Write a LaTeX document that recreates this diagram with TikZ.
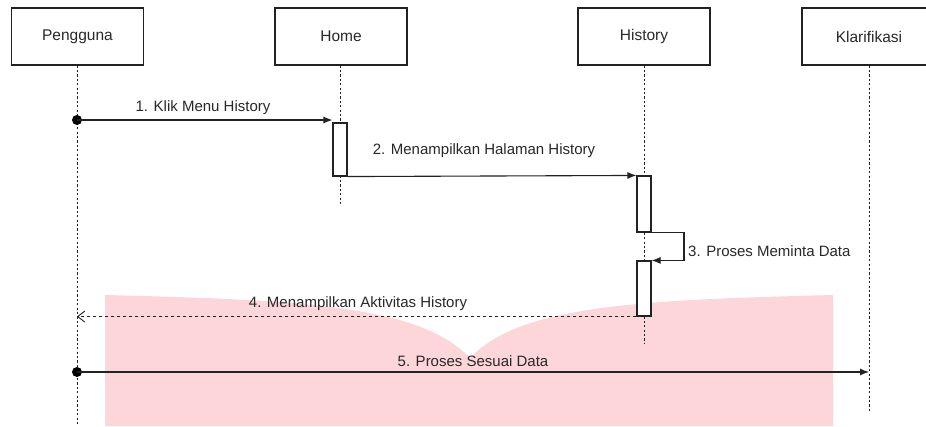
\documentclass[tikz,border=0pt]{standalone}
\usepackage{fontspec}
\setmainfont{Liberation Sans}
\usetikzlibrary{arrows.meta}
\definecolor{blush}{RGB}{252,214,216}
\definecolor{ink}{RGB}{34,34,34}
\definecolor{txt}{RGB}{40,40,40}
\begin{document}
\begin{tikzpicture}[x=1pt,y=-1pt,
  lifebox/.style={draw=ink,line width=1.1pt,minimum width=132pt,minimum height=57pt,inner sep=0pt,font=\fontsize{15.5}{17}\selectfont,text=txt},
  lifeline/.style={draw=ink,line width=0.9pt,dash pattern=on 2.2pt off 2.2pt},
  actbox/.style={draw=ink,fill=white,line width=1.1pt,minimum width=14pt,inner sep=0pt},
  msg/.style={draw=ink,line width=1.1pt,-{Latex[length=9pt,width=7pt]}},
  replymsg/.style={draw=ink,line width=0.9pt,dash pattern=on 3pt off 3pt,-{Straight Barb[length=7pt,width=11pt]}},
  lbl/.style={font=\fontsize{15}{17}\selectfont,text=txt,inner sep=0pt},
  startdot/.style={circle,fill=black,minimum size=10pt,inner sep=0pt}]
\useasboundingbox (0,0) rectangle (926,426);
\fill[white] (0,0) rectangle (926,426);
% pink background shape
\fill[blush] (105,295) .. controls (300,300) and (420,305) .. (470,358)
  .. controls (520,305) and (640,300) .. (833,295) -- (833,426) -- (105,426) -- cycle;
% lifeline heads
\node[lifebox] (peng) at (77.5,36.5) {Pengguna};
\node[lifebox] (home) at (341,36.5) {Home};
\node[lifebox] (hist) at (644,36.5) {History};
\node[lifebox,minimum width=134pt] (klar) at (869,36.5) {Klarifikasi};
% lifeline ends
\coordinate (pengEnd) at (77,426);
\coordinate (homeEnd) at (340,204);
\coordinate (histEnd) at (644,344);
\coordinate (klarEnd) at (869,413);
\draw[lifeline] (peng.south -| pengEnd) -- (pengEnd);
\draw[lifeline] (home.south -| homeEnd) -- (homeEnd);
\draw[lifeline] (hist.south -| histEnd) -- (histEnd);
\draw[lifeline] (klar.south -| klarEnd) -- (klarEnd);
% activations
\node[actbox,minimum height=53pt] (actHome) at (340,149.5) {};
\node[actbox,minimum height=56pt] (actHist1) at (644,204) {};
\node[actbox,minimum height=55pt] (actHist2) at (644,288.5) {};
% start dots
\node[startdot] (dot1) at (77,120) {};
\node[startdot] (dot5) at (77,372) {};
\coordinate (loop) at (684,246);
% messages
\draw[msg] (dot1.center) -- (actHome.north west |- dot1);
\node[lbl] (m1) at (203,108) {1. Klik Menu History};
\draw[msg] (actHome.south east) -- (actHist1.north west);
\node[lbl] (m2) at (484,151) {2. Menampilkan Halaman History};
\draw[msg] (actHist1.south east) -| (loop) |- (actHist2.north east);
\node[lbl,anchor=west] (m3) at (688,251) {3. Proses Meminta Data};
\draw[replymsg] (actHist2.south west) -- (pengEnd |- actHist2.south);
\node[lbl] (m4) at (358,304) {4. Menampilkan Aktivitas History};
\draw[msg] (dot5.center) -- (klarEnd |- dot5);
\node[lbl] (m5) at (473,361) {5. Proses Sesuai Data};
\end{tikzpicture}
\end{document}
